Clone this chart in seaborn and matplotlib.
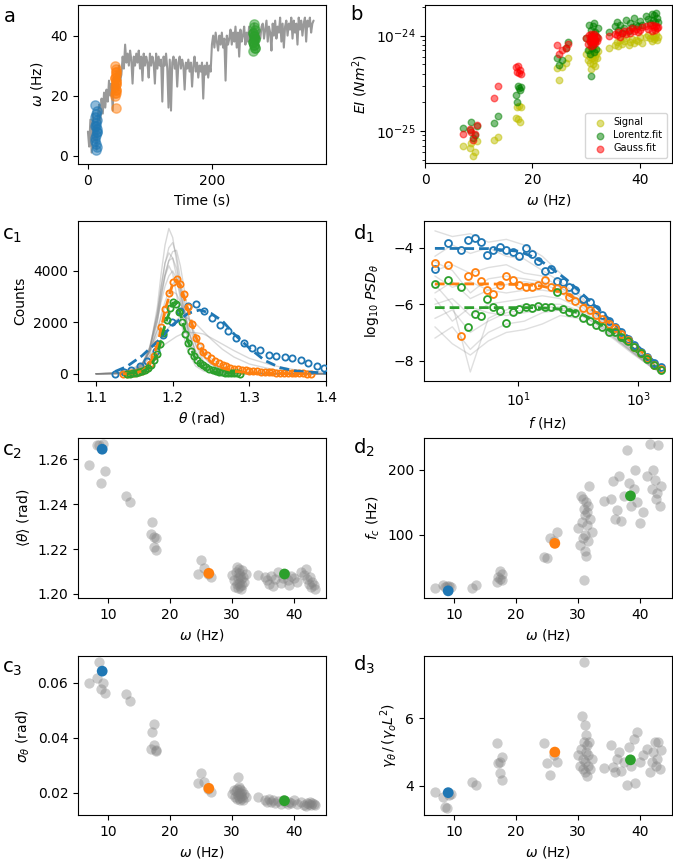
import numpy as np
import matplotlib
matplotlib.use("Agg")
import matplotlib.pyplot as plt
import seaborn as sns
from matplotlib.ticker import NullLocator, NullFormatter

# ---------------- data ----------------
# panel a: omega(t) trace (sampled every 2 s) and the three highlighted windows
omega_trace = [8, 3, 12, 1, 14, 5, 10, 2,
               13, 17, 11, 19, 14, 21, 16,
               22, 18, 25, 20, 24, 15, 26, 21,
               28, 22, 30, 25, 27,
               33, 29, 37,
               31, 34, 30, 35, 32, 24, 33, 30, 34, 31,
               35, 29, 33, 25, 34, 30, 33, 31, 26, 34,
               30, 33, 31, 24, 34, 29, 33, 30, 32, 18,
               33, 30, 34, 29, 16, 32, 15, 31, 33, 29,
               32, 23, 31, 33, 29, 32, 30, 22, 31, 29,
               32, 28, 31, 23, 30, 33, 28, 31, 26, 30,
               28, 31, 19, 30, 27, 31, 26, 30, 28,
               37, 40, 36, 41, 38, 35, 40, 37, 41, 36, 39, 25, 40, 37, 39,
               42, 37, 41, 38, 43, 36, 41, 33, 42, 38, 40, 43, 37,
               41, 38, 43, 37, 42, 39, 44, 38, 41, 37, 42, 39, 43,
               44, 39, 42, 45, 38, 43, 41, 35, 44, 40, 45, 39, 43, 41, 46, 38, 44, 36, 43, 45,
               40, 44, 42, 46, 39, 45, 41, 44, 37, 46, 42, 45, 40, 44, 46, 38, 45, 43, 46, 41,
               44, 45]
blue_t = [12, 13, 14, 12, 13, 14, 13, 12, 14, 13, 12, 14, 13, 15, 13, 12, 14]
blue_w = [17, 2, 3, 5, 7, 9, 11, 13, 15, 4, 6, 8, 10, 12, 14, 10, 8]
orange_t = [45, 44, 45, 46, 44, 45, 46, 44, 45, 46, 45, 44, 45, 46, 44, 45, 46, 44]
orange_w = [16, 20, 21, 22, 23, 24, 25, 26, 27, 28, 29, 30, 22, 24, 26, 28, 25, 21]
green_t = [268, 267, 269, 268, 267, 269, 268, 267, 269, 268, 267, 269, 268, 267, 269, 268, 268]
green_w = [44, 35, 36, 37, 38, 39, 40, 41, 42, 37, 38, 39, 40, 41, 36, 39, 43]

# shared trial frequencies omega (Hz) for panels b, c2, c3, d2, d3
omega = [7.0, 8.3, 8.6, 8.9, 9.3, 9.6,
         12.9, 13.6,
         17.0, 17.2, 17.4, 17.5, 17.7, 17.8,
         24.5, 25.0, 25.5, 26.2, 26.7,
         30.0, 30.3, 30.5, 30.7, 30.8, 30.9, 31.0, 31.0, 31.1, 31.2,
         31.2, 31.3, 31.4, 31.5, 31.5, 31.6, 31.7, 31.8, 32.0, 32.3,
         34.2, 35.3, 35.7, 36.0, 36.3, 36.6, 37.0, 37.4, 37.9, 38.2, 38.6, 39.0, 39.3,
         39.6, 40.0, 40.5, 41.2, 41.6, 41.9, 42.2, 42.4, 42.6, 42.8, 43.0, 43.2, 43.4]

# panel b: bending rigidity EI, in units of 1e-25 N m^2
ei_signal = [0.70, 0.66, 0.75, 0.55, 0.60, 0.78,
             0.80, 0.87,
             1.38, 1.80, 1.35, 1.85, 1.23, 1.80,
             4.6, 3.4, 4.7, 5.2, 5.9,
             6.5, 5.5, 7.0, 6.0, 5.2, 6.8, 4.5, 7.5, 5.8, 6.2, 7.8, 5.0, 6.6, 5.6, 7.2, 6.0, 4.8, 6.4, 5.9, 6.9,
             7.5, 8.0, 8.5, 7.8, 9.0, 8.2, 8.8, 9.5, 8.0, 8.6, 9.2, 8.4, 9.0, 8.8, 9.6, 8.3, 9.8, 10.2, 9.4,
             8.8, 10.0, 9.2, 9.6, 10.5, 9.0, 9.8]
ei_lorentz = [1.07, 1.02, 1.23, 0.85, 0.90, 1.12,
              1.20, 1.45,
              2.4, 2.0, 3.0, 2.8, 2.7, 2.9,
              5.9, 4.9, 5.5, 7.4, 8.5,
              9.5, 7.0, 13.0, 8.5, 6.5, 11.5, 3.8, 10.0, 7.5, 12.5, 8.0, 9.0, 13.5, 6.8, 10.5, 8.8, 11.0, 7.2, 9.8, 12.0,
              11.0, 12.5, 14.0, 11.5, 13.0, 10.8, 12.0, 14.5, 11.2, 13.5, 12.2, 15.5, 13.0, 12.5, 14.2, 12.8, 16.0,
              15.0, 13.5, 17.0, 14.5, 16.5, 13.8, 17.5, 15.2, 14.0]
ei_gauss = [0.93, 1.05, 0.98, 0.80, 0.92, 1.15,
            2.2, 3.0,
            4.7, 4.2, 4.8, 4.1, 4.4, 4.0,
            7.9, 6.5, 7.1, 7.4, 8.2,
            9.5, 8.2, 10.2, 9.0, 8.8, 9.8, 7.8, 10.5, 8.5, 9.2, 10.0, 8.0, 9.6, 8.7, 10.3, 9.1, 8.4, 9.9, 8.9, 9.4,
            10.0, 10.5, 10.2, 11.0, 9.8, 10.6, 11.2, 10.4, 11.5, 10.8, 12.0, 11.3, 11.8, 10.9, 11.6, 12.2, 12.5,
            11.8, 12.8, 11.2, 13.0, 12.3, 11.6, 12.7, 11.9, 12.4]

# panel c2: mean angle
theta_mean = [1.2575, 1.2664, 1.2664, 1.2496, 1.2670, 1.2550,
              1.2437, 1.2408,
              1.2266, 1.2319, 1.2208, 1.2252, 1.2196, 1.2250,
              1.2088, 1.2151, 1.2114, 1.2090, 1.2077,
              1.2085, 1.2060, 1.2030, 1.2100, 1.2045, 1.2120, 1.2070, 1.2025, 1.2095, 1.2050,
              1.2110, 1.2035, 1.2080, 1.2020, 1.2065, 1.2105, 1.2040, 1.2075, 1.2055, 1.2090,
              1.2085, 1.2075, 1.2060, 1.2045, 1.2080, 1.2035, 1.2065, 1.2100, 1.2050, 1.2070, 1.2090, 1.2060,
              1.2040, 1.2080, 1.2070, 1.2055, 1.2100, 1.2085, 1.2110, 1.2065, 1.2045, 1.2075, 1.2030, 1.2055,
              1.2040, 1.2020]
# panel c3: angle spread
theta_std = [0.0598, 0.0616, 0.0674, 0.0577, 0.0600, 0.0564,
             0.0558, 0.0535,
             0.0359, 0.0422, 0.0373, 0.0448, 0.0352, 0.0356,
             0.0234, 0.0270, 0.0240, 0.0215, 0.0204,
             0.0195, 0.0210, 0.0185, 0.0205, 0.0178, 0.0215, 0.0256, 0.0190, 0.0222, 0.0182,
             0.0200, 0.0175, 0.0212, 0.0188, 0.0198, 0.0180, 0.0205, 0.0172, 0.0195, 0.0185,
             0.0183, 0.0175, 0.0168, 0.0178, 0.0165, 0.0172, 0.0163, 0.0170, 0.0160, 0.0175, 0.0166, 0.0158,
             0.0168, 0.0162, 0.0172, 0.0160, 0.0168, 0.0155, 0.0150, 0.0162, 0.0158, 0.0165, 0.0155, 0.0163,
             0.0160, 0.0157]
# panel d2: corner frequency
f_corner = [18, 23, 20, 21, 22, 20,
            18, 23,
            28, 36, 32, 44, 30, 40,
            66, 64, 96, 90, 105,
            110, 85, 160, 120, 95, 155, 31, 140, 75, 130, 100, 150, 68, 115, 135, 90, 145, 175, 125, 105,
            152, 155, 183, 125, 138, 190, 122, 160, 230, 180, 145, 170, 200, 150, 118, 135, 190, 240,
            170, 200, 185, 155, 165, 238, 145, 175]
# panel d3: normalised friction
gamma_norm = [3.83, 3.68, 3.39, 3.36, 3.73, 3.75,
              4.13, 4.03,
              5.26, 4.67, 4.72, 4.37, 4.84, 4.18,
              5.26, 4.67, 4.33, 4.90, 4.70,
              4.9, 4.6, 5.1, 6.08, 4.8, 4.5, 7.65, 5.3, 4.7, 5.8, 4.4, 5.0, 5.5, 4.3, 5.2, 4.6, 4.9, 5.3, 4.5, 4.8,
              4.52, 5.2, 4.55, 4.4, 4.8, 5.0, 4.45, 4.7, 4.02, 5.15, 4.6, 5.4, 4.1, 5.6, 4.7, 4.9, 5.1,
              4.4, 4.7, 5.0, 5.3, 4.6, 4.8, 5.3, 4.5, 5.05]

# highlighted trials (blue, orange, green)
hl_omega = [9.1, 26.3, 38.5]
hl_theta_mean = [1.2645, 1.2092, 1.2089]
hl_theta_std = [0.0642, 0.0216, 0.0171]
hl_fc = [14, 87, 160]
hl_gamma = [3.80, 5.00, 4.77]

# panel c1: angle histograms
theta_grid = [1.100, 1.130, 1.150, 1.160, 1.170, 1.180, 1.185, 1.190, 1.195, 1.200, 1.205, 1.210,
              1.215, 1.220, 1.230, 1.240, 1.250, 1.265, 1.280, 1.300, 1.330, 1.360, 1.400]
hist_gray = [
    [0, 5, 60, 250, 900, 2600, 3900, 5000, 5650, 5300, 4400, 3300, 2300, 1500, 600, 250, 110, 40, 15, 5, 0, 0, 0],
    [0, 10, 80, 300, 1000, 2400, 3400, 4300, 4900, 5100, 4600, 3700, 2700, 1800, 800, 350, 150, 60, 25, 8, 0, 0, 0],
    [0, 10, 90, 320, 950, 2100, 3000, 3800, 4400, 4750, 4800, 4200, 3300, 2400, 1100, 500, 220, 90, 35, 10, 0, 0, 0],
    [0, 15, 100, 350, 1050, 2300, 3200, 3900, 4400, 4500, 4100, 3300, 2500, 1700, 800, 380, 180, 80, 30, 10, 0, 0, 0],
    [0, 20, 120, 380, 1000, 2100, 2800, 3400, 3800, 4000, 3700, 3100, 2400, 1700, 900, 450, 230, 100, 45, 15, 5, 0, 0],
    [0, 20, 110, 330, 850, 1700, 2300, 2800, 3200, 3500, 3600, 3400, 2900, 2300, 1300, 700, 380, 170, 80, 30, 10, 0, 0],
    [0, 25, 130, 380, 900, 1700, 2200, 2600, 2950, 3200, 3100, 2800, 2350, 1900, 1150, 650, 370, 180, 90, 35, 12, 0, 0],
    [0, 5, 50, 200, 700, 2000, 3000, 3800, 4200, 3900, 3100, 2200, 1400, 850, 300, 110, 40, 15, 5, 0, 0, 0, 0],
    [0, 40, 200, 400, 700, 1100, 1350, 1600, 1800, 1950, 2100, 2200, 2200, 2150, 1950, 1650, 1350, 950, 650, 380, 170, 60, 15],
    [0, 60, 250, 400, 600, 850, 1000, 1150, 1250, 1350, 1450, 1520, 1580, 1600, 1600, 1550, 1400, 1150, 900, 600, 330, 150, 50],
    [0, 30, 150, 400, 850, 1500, 1900, 2250, 2550, 2750, 2800, 2700, 2450, 2150, 1500, 950, 600, 300, 140, 50, 15, 5, 0],
    [0, 10, 70, 280, 900, 2300, 3400, 4300, 4700, 4500, 3800, 2900, 2000, 1300, 550, 230, 100, 40, 15, 5, 0, 0, 0],
]
theta_blue = [1.125, 1.136, 1.146, 1.157, 1.167, 1.178, 1.188, 1.199, 1.209, 1.220, 1.230, 1.241, 1.251, 1.262,
              1.272, 1.283, 1.293, 1.304, 1.314, 1.325, 1.335, 1.346, 1.356, 1.367, 1.377, 1.388, 1.398]
counts_blue = [0, 60, 150, 300, 500, 900, 1500, 2000, 2450, 2650, 2700, 2450, 2150, 1900,
               1650, 1400, 1200, 1020, 930, 750, 680, 670, 620, 520, 420, 300, 220]
fit_theta_blue = [1.125, 1.14, 1.16, 1.18, 1.20, 1.22, 1.235, 1.25, 1.265, 1.28, 1.30, 1.32, 1.34, 1.36, 1.38, 1.40]
fit_blue = [90, 280, 700, 1250, 1900, 2350, 2480, 2350, 2050, 1550, 1000, 520, 240, 110, 60, 35]
counts_orange = [0, 10, 20, 35, 60, 110, 200, 380, 680, 1150, 1800, 2500, 3150, 3550, 3700, 3480, 3100,
                 2600, 1950, 1400, 1080, 850, 720, 600, 500, 420, 350, 290, 240, 200, 170, 150, 130, 115,
                 100, 90, 80, 70, 62, 55, 48, 42, 36, 30, 25, 20, 16, 12, 8, 5]
fit_theta_orange = [1.135, 1.15, 1.16, 1.17, 1.18, 1.19, 1.20, 1.205, 1.21, 1.22, 1.23, 1.24, 1.25, 1.26,
                    1.28, 1.30, 1.33, 1.38]
fit_orange = [0, 30, 100, 350, 1100, 2450, 3500, 3650, 3450, 2500, 1450, 800, 450, 260, 100, 45, 15, 3]
counts_green = [0, 10, 20, 35, 55, 90, 140, 220, 340, 520, 780, 1150, 1600, 2100, 2550, 2800, 2700, 2400,
                2000, 1550, 1180, 900, 700, 540, 420, 330, 260, 200, 150, 115, 85, 65, 50, 38, 28, 20, 12, 8]
fit_theta_green = [1.14, 1.16, 1.17, 1.18, 1.19, 1.20, 1.205, 1.21, 1.22, 1.23, 1.24, 1.25, 1.26, 1.28]
fit_green = [0, 80, 250, 750, 1900, 2750, 2750, 2350, 1250, 550, 230, 100, 45, 10]

# panel d1: power spectra (log10 f, log10 PSD)
logf_pts = [-0.39, -0.17, 0.04, 0.16, 0.27, 0.37, 0.47, 0.57, 0.69, 0.80, 0.91, 1.01, 1.12, 1.23, 1.33,
            1.45, 1.55, 1.65, 1.75, 1.85, 1.95, 2.07, 2.19, 2.30, 2.40, 2.51, 2.61, 2.71, 2.83, 2.93,
            3.05, 3.15, 3.26, 3.37]
psd_blue = [-4.74, -3.83, -4.06, -3.73, -3.66, -3.80, -4.24, -4.06, -3.98, -4.06, -4.14, -4.30, -4.01,
            -4.23, -4.48, -4.83, -4.74, -5.19, -5.22, -5.39, -5.51, -5.82, -5.92, -6.17, -6.37, -6.58,
            -6.81, -7.00, -7.24, -7.44, -7.68, -7.86, -8.07, -8.21]
psd_orange = [-4.54, -4.62, -7.11, -4.99, -4.87, -5.19, -5.49, -5.63, -5.31, -5.01, -5.13, -5.31, -5.39,
              -5.39, -5.32, -5.13, -5.39, -5.43, -5.51, -5.75, -5.87, -6.14, -6.20, -6.37, -6.53, -6.69,
              -6.85, -7.05, -7.27, -7.50, -7.74, -7.92, -8.15, -8.31]
psd_green = [-5.28, -5.13, -5.39, -6.79, -6.35, -6.41, -5.82, -6.08, -6.23, -6.65, -6.29, -6.17, -6.10,
             -6.14, -6.06, -6.10, -6.08, -5.58, -6.17, -6.29, -6.32, -6.49, -6.58, -6.73, -6.81, -6.97,
             -7.00, -7.17, -7.32, -7.50, -7.74, -7.95, -8.15, -8.33]
logf_fit = [-0.39, 0.5, 1.0, 1.2, 1.4, 1.6, 1.8, 2.0, 2.2, 2.4, 2.6, 2.8, 3.0, 3.2, 3.37]
fit_psd_blue = [-4.02, -4.03, -4.12, -4.28, -4.50, -4.80, -5.12, -5.50, -5.90, -6.30, -6.70, -7.10, -7.50, -7.90, -8.25]
fit_psd_orange = [-5.28, -5.28, -5.30, -5.32, -5.36, -5.46, -5.63, -5.86, -6.14, -6.47, -6.82, -7.19, -7.57, -7.96, -8.30]
fit_psd_green = [-6.12, -6.12, -6.12, -6.12, -6.13, -6.15, -6.20, -6.30, -6.50, -6.76, -7.05, -7.38, -7.72, -8.07, -8.38]
logf_gray = [-0.39, -0.1, 0.2, 0.5, 0.8, 1.1, 1.4, 1.7, 2.0, 2.3, 2.6, 2.9, 3.2, 3.37]
psd_gray = [
    [-3.4, -3.6, -3.5, -3.8, -3.7, -3.9, -4.3, -4.9, -5.6, -6.3, -6.9, -7.5, -8.0, -8.25],
    [-4.3, -3.9, -4.2, -4.0, -4.3, -4.4, -4.8, -5.2, -5.7, -6.3, -6.9, -7.5, -8.0, -8.3],
    [-4.8, -4.6, -4.9, -4.7, -4.6, -4.9, -5.0, -5.4, -5.85, -6.4, -6.95, -7.55, -8.05, -8.3],
    [-5.0, -5.4, -5.2, -5.5, -5.3, -5.2, -5.3, -5.5, -5.9, -6.45, -7.0, -7.6, -8.1, -8.35],
    [-5.6, -5.2, -5.8, -5.5, -5.6, -5.5, -5.5, -5.6, -6.0, -6.5, -7.0, -7.6, -8.1, -8.35],
    [-6.0, -5.8, -6.4, -6.0, -5.9, -5.8, -5.7, -5.8, -6.1, -6.6, -7.1, -7.65, -8.15, -8.4],
    [-6.5, -6.2, -7.0, -6.6, -6.3, -6.2, -6.0, -6.0, -6.2, -6.65, -7.15, -7.7, -8.15, -8.4],
    [-7.2, -6.8, -7.6, -7.0, -6.7, -6.6, -6.3, -6.2, -6.35, -6.7, -7.2, -7.7, -8.2, -8.4],
    [-5.3, -6.0, -8.4, -6.5, -6.2, -6.0, -6.1, -6.1, -6.3, -6.7, -7.2, -7.7, -8.2, -8.4],
    [-6.8, -7.4, -7.8, -7.3, -7.0, -6.9, -6.7, -6.4, -6.5, -6.8, -7.25, -7.75, -8.2, -8.45],
    [-4.5, -4.8, -5.6, -5.1, -5.0, -5.1, -5.2, -5.4, -5.8, -6.35, -6.9, -7.5, -8.05, -8.3],
    [-5.8, -6.6, -6.1, -6.3, -6.4, -6.3, -6.2, -6.2, -6.25, -6.6, -7.1, -7.65, -8.15, -8.4],
]

# ---------------- style ----------------
sns.set_style("ticks")
plt.rcParams.update({
    "font.family": ["DejaVu Sans"],
    "mathtext.fontset": "dejavusans",
    "axes.edgecolor": "black", "text.color": "black", "axes.labelcolor": "black",
    "xtick.color": "black", "ytick.color": "black",
    "font.size": 10, "axes.labelsize": 10, "xtick.labelsize": 10, "ytick.labelsize": 10,
    "axes.linewidth": 0.8, "xtick.major.size": 3.5, "ytick.major.size": 3.5,
    "xtick.minor.size": 2, "ytick.minor.size": 2,
    "xtick.major.width": 0.8, "ytick.major.width": 0.8,
})
C0, C1, C2 = "#1f77b4", "#ff7f0e", "#2ca02c"

W, H = 673, 865
fig = plt.figure(figsize=(W / 100, H / 100), dpi=100)


def ax_at(l, t, r, b):
    return fig.add_axes([l / W, 1 - b / H, (r - l) / W, (b - t) / H])


ax_a = ax_at(78, 5, 326, 164)
ax_b = ax_at(425, 5, 672, 163)
ax_c1 = ax_at(78, 221, 326, 381)
ax_d1 = ax_at(424, 221, 670, 381)
ax_c2 = ax_at(78, 438, 326, 598)
ax_d2 = ax_at(424, 438, 672, 598)
ax_c3 = ax_at(78, 656, 326, 815)
ax_d3 = ax_at(424, 656, 672, 815)

# ---- a ----
t_a = np.arange(0, 2 * len(omega_trace), 2)
sns.lineplot(x=t_a, y=omega_trace, ax=ax_a, color="#999999", linewidth=1.5,
             estimator=None, sort=False, legend=False)
for tt, ww, c in [(blue_t, blue_w, C0), (orange_t, orange_w, C1), (green_t, green_w, C2)]:
    sns.scatterplot(x=tt, y=ww, ax=ax_a, color=c, edgecolor=c, alpha=0.5, s=45,
                    linewidth=1, legend=False, zorder=3)
ax_a.set_xlim(-16, 384)
ax_a.set_ylim(-2.8, 50.2)
ax_a.set_xticks([0, 200])
ax_a.set_yticks([0, 20, 40])
ax_a.set_xlabel("Time (s)")
ax_a.set_ylabel(r"$\omega$ (Hz)")

# ---- b ----
scale = 1e-25
for vals, c, lab in [(ei_signal, "y", "Signal"), (ei_lorentz, "g", "Lorentz.fit"), (ei_gauss, "r", "Gauss.fit")]:
    sns.scatterplot(x=omega, y=np.array(vals) * scale, ax=ax_b, color=c, edgecolor=c,
                    alpha=0.5, s=22, linewidth=1, label=lab)
ax_b.set_yscale("log")
ax_b.set_xlim(0, 46)
ax_b.set_ylim(10 ** -25.336, 10 ** -23.678)
ax_b.set_yticks([1e-25, 1e-24])
ax_b.yaxis.set_minor_formatter(NullFormatter())
ax_b.set_xticks([0, 20, 40])
ax_b.set_xlabel(r"$\omega$ (Hz)")
ax_b.set_ylabel(r"$EI\ (Nm^2)$")
ax_b.legend(loc="lower right", fontsize=7, handletextpad=0.4, borderpad=0.5,
            labelspacing=0.3, framealpha=0.8)

# ---- c1 ----
for curve in hist_gray:
    sns.lineplot(x=theta_grid, y=curve, ax=ax_c1, color="gray", alpha=0.3, linewidth=1,
                 estimator=None, sort=False, legend=False)
theta_orange = np.linspace(1.135, 1.380, len(counts_orange))
theta_green = np.linspace(1.140, 1.288, len(counts_green))
for th, cnt, fth, fv, c in [(theta_blue, counts_blue, fit_theta_blue, fit_blue, C0),
                            (theta_orange, counts_orange, fit_theta_orange, fit_orange, C1),
                            (theta_green, counts_green, fit_theta_green, fit_green, C2)]:
    ax_c1.plot(th, cnt, "o", mfc="none", mec=c, mew=1.3, ms=4.5, zorder=3)
    sns.lineplot(x=fth, y=fv, ax=ax_c1, color=c, linewidth=2, linestyle=(0, (3.5, 1.8)),
                 estimator=None, sort=False, legend=False, zorder=4)
ax_c1.set_xlim(1.0765, 1.40)
ax_c1.set_ylim(-280, 5940)
ax_c1.set_xticks([1.1, 1.2, 1.3, 1.4])
ax_c1.set_yticks([0, 2000, 4000])
ax_c1.set_xlabel(r"$\theta$ (rad)")
ax_c1.set_ylabel("Counts")

# ---- d1 ----
f_gray = 10 ** np.array(logf_gray)
for curve in psd_gray:
    sns.lineplot(x=f_gray, y=curve, ax=ax_d1, color="gray", alpha=0.25, linewidth=1,
                 estimator=None, sort=False, legend=False)
f_pts = 10 ** np.array(logf_pts)
f_fit = 10 ** np.array(logf_fit)
for vals, fv, c in [(psd_blue, fit_psd_blue, C0), (psd_orange, fit_psd_orange, C1), (psd_green, fit_psd_green, C2)]:
    sns.lineplot(x=f_fit, y=fv, ax=ax_d1, color=c, linewidth=2, linestyle=(0, (3.5, 1.8)),
                 estimator=None, sort=False, legend=False, zorder=3)
    ax_d1.plot(f_pts, vals, "o", mfc="none", mec=c, mew=1.3, ms=5, zorder=4)
ax_d1.set_xscale("log")
ax_d1.set_xlim(0.268, 3375)
ax_d1.set_ylim(-8.72, -3.05)
ax_d1.set_xticks([10, 1000])
ax_d1.xaxis.set_minor_locator(NullLocator())
ax_d1.set_yticks([-8, -6, -4])
ax_d1.set_xlabel(r"$f$ (Hz)")
ax_d1.set_ylabel(r"$\log_{10}\,PSD_\theta$", labelpad=9)

# ---- scatter panels ----
def scatter_panel(ax, vals, hl, ylim, yticks, ylabel):
    sns.scatterplot(x=omega, y=vals, ax=ax, color="gray", alpha=0.4, s=55, linewidth=0, legend=False)
    sns.scatterplot(x=hl_omega, y=hl, ax=ax, hue=["b", "o", "g"], palette=[C0, C1, C2],
                    s=60, linewidth=0, legend=False, zorder=3)
    ax.set_xlim(5.2, 45.2)
    ax.set_ylim(*ylim)
    ax.set_xticks([10, 20, 30, 40])
    ax.set_yticks(yticks)
    ax.set_xlabel(r"$\omega$ (Hz)")
    ax.set_ylabel(ylabel)


scatter_panel(ax_c2, theta_mean, hl_theta_mean, (1.1982, 1.2695), [1.20, 1.22, 1.24, 1.26],
              r"$\langle\theta\rangle$ (rad)")
ax_c2.set_yticklabels(["1.20", "1.22", "1.24", "1.26"])
scatter_panel(ax_d2, f_corner, hl_fc, (3, 249), [100, 200], r"$f_c$ (Hz)")
scatter_panel(ax_c3, theta_std, hl_theta_std, (0.0119, 0.0697), [0.02, 0.04, 0.06],
              r"$\sigma_\theta$ (rad)")
scatter_panel(ax_d3, gamma_norm, hl_gamma, (3.14, 7.84), [4, 6],
              r"$\gamma_\theta\,/\,(\gamma_o L^2)$")

# ---- panel labels ----
for lab, x, y in [("a", 4, 22), ("b", 350, 20), (r"c$_1$", 2, 240), (r"d$_1$", 353, 240),
                  (r"c$_2$", 2, 456), (r"d$_2$", 353, 454), (r"c$_3$", 2, 673), (r"d$_3$", 353, 671)]:
    fig.text(x / W, 1 - y / H, lab, fontsize=14, ha="left", va="baseline")

fig.savefig("out.png", dpi=100)
